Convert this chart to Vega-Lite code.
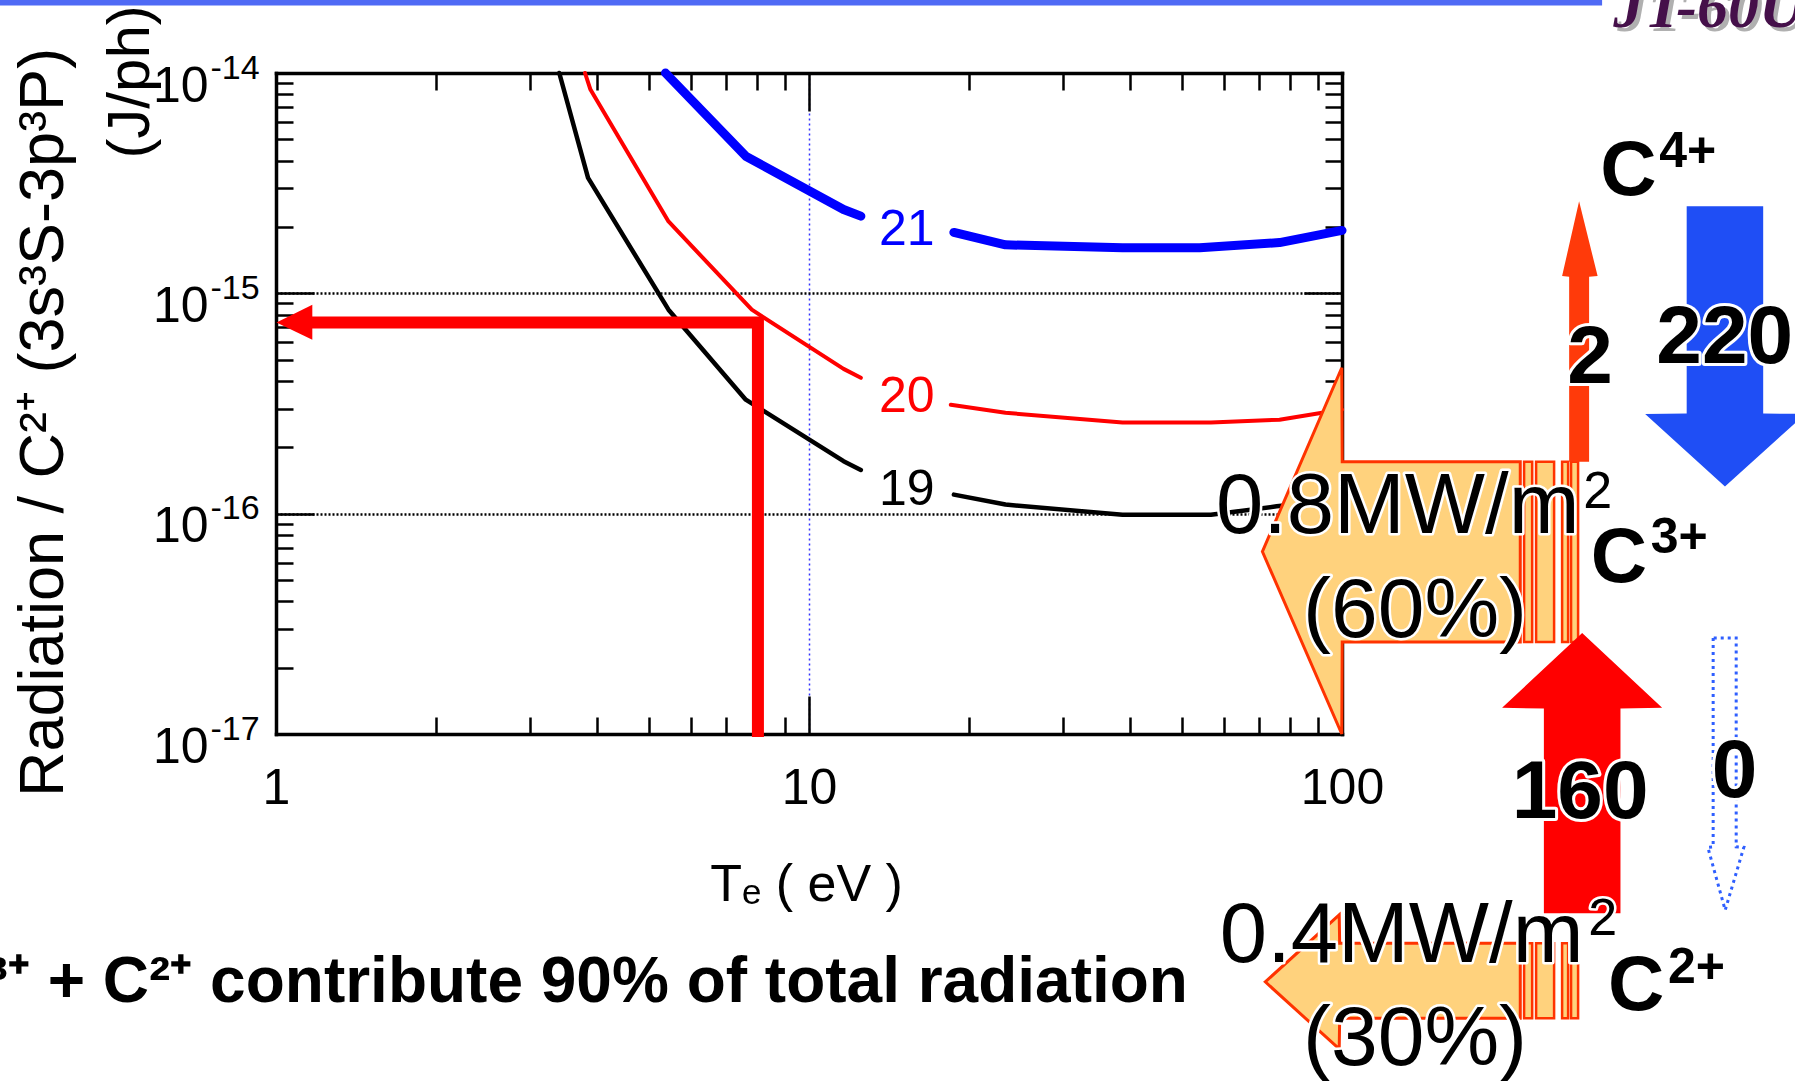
{
  "$schema": "https://vega.github.io/schema/vega-lite/v6.json",
  "width": 1066,
  "height": 661,
  "autosize": {"type": "none"},
  "padding": {"left": 276, "top": 73, "right": 453, "bottom": 347},
  "background": "white",
  "config": {
    "view": {"stroke": null},
    "font": "Liberation Sans",
    "axis": {"labelFont": "Liberation Sans", "titleFont": "Liberation Sans", "labelColor": "black", "titleColor": "black", "tickColor": "black", "domainColor": "black"}
  },
  "datasets": {
    "curves": [
      {"series": "19", "seg": "a", "Te": 3.40, "R": 1e-14},
      {"series": "19", "seg": "a", "Te": 3.85, "R": 3.34e-15},
      {"series": "19", "seg": "a", "Te": 5.45, "R": 8.43e-16},
      {"series": "19", "seg": "a", "Te": 7.61, "R": 3.29e-16},
      {"series": "19", "seg": "a", "Te": 11.61, "R": 1.73e-16},
      {"series": "19", "seg": "a", "Te": 12.51, "R": 1.58e-16},
      {"series": "19", "seg": "b", "Te": 18.70, "R": 1.22e-16},
      {"series": "19", "seg": "b", "Te": 23.37, "R": 1.10e-16},
      {"series": "19", "seg": "b", "Te": 38.74, "R": 9.88e-17},
      {"series": "19", "seg": "b", "Te": 56.77, "R": 9.88e-17},
      {"series": "19", "seg": "b", "Te": 75.4, "R": 1.08e-16},
      {"series": "19", "seg": "b", "Te": 100, "R": 1.16e-16},
      {"series": "20", "seg": "a", "Te": 3.80, "R": 1e-14},
      {"series": "20", "seg": "a", "Te": 3.89, "R": 8.41e-15},
      {"series": "20", "seg": "a", "Te": 5.45, "R": 2.12e-15},
      {"series": "20", "seg": "a", "Te": 7.81, "R": 8.43e-16},
      {"series": "20", "seg": "a", "Te": 11.61, "R": 4.54e-16},
      {"series": "20", "seg": "a", "Te": 12.51, "R": 4.14e-16},
      {"series": "20", "seg": "b", "Te": 18.45, "R": 3.12e-16},
      {"series": "20", "seg": "b", "Te": 23.37, "R": 2.87e-16},
      {"series": "20", "seg": "b", "Te": 38.74, "R": 2.59e-16},
      {"series": "20", "seg": "b", "Te": 56.77, "R": 2.59e-16},
      {"series": "20", "seg": "b", "Te": 76.35, "R": 2.67e-16},
      {"series": "20", "seg": "b", "Te": 100, "R": 2.97e-16},
      {"series": "21", "seg": "a", "Te": 5.38, "R": 1e-14},
      {"series": "21", "seg": "a", "Te": 7.61, "R": 4.19e-15},
      {"series": "21", "seg": "a", "Te": 11.61, "R": 2.40e-15},
      {"series": "21", "seg": "a", "Te": 12.51, "R": 2.24e-15},
      {"series": "21", "seg": "b", "Te": 18.70, "R": 1.89e-15},
      {"series": "21", "seg": "b", "Te": 23.37, "R": 1.66e-15},
      {"series": "21", "seg": "b", "Te": 38.74, "R": 1.61e-15},
      {"series": "21", "seg": "b", "Te": 54.07, "R": 1.61e-15},
      {"series": "21", "seg": "b", "Te": 76.35, "R": 1.70e-15},
      {"series": "21", "seg": "b", "Te": 100, "R": 1.93e-15}
    ],
    "curvelabels": [
      {"series": "19", "label": "19", "Te": 15.26, "R": 1.097e-16},
      {"series": "20", "label": "20", "Te": 15.26, "R": 2.90e-16},
      {"series": "21", "label": "21", "Te": 15.26, "R": 1.664e-15}
    ],
    "redarrow": [
      {"k": 1, "Te": 8.02, "R": 9.69e-18},
      {"k": 2, "Te": 8.02, "R": 7.38e-16},
      {"k": 3, "Te": 1.16, "R": 7.38e-16}
    ],
    "redhead": [
      {"Te": 1.002, "R": 7.38e-16, "R2": 7.38e-16},
      {"Te": 1.17, "R": 8.88e-16, "R2": 6.16e-16}
    ],
    "yellow": [
      {"arrow": "c3", "Te": 70.9, "R": 6.73e-17, "R2": 6.73e-17},
      {"arrow": "c3", "Te": 99.9, "R": 4.596e-16, "R2": 1e-17},
      {"arrow": "c3", "Te": 100.1, "R": 1.719e-16, "R2": 2.617e-17},
      {"arrow": "c3", "Te": 216, "R": 1.719e-16, "R2": 2.617e-17},
      {"arrow": "c2", "Te": 71.8, "R": 7.50e-19, "R2": 7.50e-19},
      {"arrow": "c2", "Te": 98.8, "R": 1.511e-18, "R2": 3.72e-19},
      {"arrow": "c2", "Te": 99.0, "R": 1.124e-18, "R2": 5.13e-19},
      {"arrow": "c2", "Te": 216, "R": 1.124e-18, "R2": 5.13e-19}
    ],
    "stripes": [
      {"Te": 219.6, "Te2": 227.4, "R": 1.719e-16, "R2": 2.617e-17},
      {"Te": 231.3, "Te2": 250.0, "R": 1.719e-16, "R2": 2.617e-17},
      {"Te": 258.8, "Te2": 265.6, "R": 1.719e-16, "R2": 2.617e-17},
      {"Te": 269.0, "Te2": 277.3, "R": 1.719e-16, "R2": 2.617e-17},
      {"Te": 219.6, "Te2": 227.4, "R": 1.124e-18, "R2": 5.13e-19},
      {"Te": 231.3, "Te2": 250.0, "R": 1.124e-18, "R2": 5.13e-19},
      {"Te": 258.8, "Te2": 265.6, "R": 1.124e-18, "R2": 5.13e-19},
      {"Te": 269.0, "Te2": 277.3, "R": 1.124e-18, "R2": 5.13e-19}
    ],
    "vertarrows": [
      {"arrow": "orange", "R": 1.719e-16, "Te": 266.8, "Te2": 290.8},
      {"arrow": "orange", "R": 1.190e-15, "Te": 266.8, "Te2": 290.8},
      {"arrow": "orange", "R": 1.198e-15, "Te": 258.8, "Te2": 301.7},
      {"arrow": "orange", "R": 2.617e-15, "Te": 278.5, "Te2": 278.5},
      {"arrow": "blue", "R": 1.328e-16, "Te": 523, "Te2": 523},
      {"arrow": "blue", "R": 2.835e-16, "Te": 370.5, "Te2": 739.8},
      {"arrow": "blue", "R": 2.850e-16, "Te": 443.3, "Te2": 616.9},
      {"arrow": "blue", "R": 2.483e-15, "Te": 443.3, "Te2": 616.9},
      {"arrow": "red", "R": 1.538e-18, "Te": 239.2, "Te2": 333.0},
      {"arrow": "red", "R": 1.305e-17, "Te": 239.2, "Te2": 333.0},
      {"arrow": "red", "R": 1.315e-17, "Te": 199.7, "Te2": 398.7},
      {"arrow": "red", "R": 2.875e-17, "Te": 282.2, "Te2": 282.2}
    ],
    "dotted": [
      {"R": 1.587e-18, "Te": 523.5, "Te2": 523.5},
      {"R": 3.06e-18, "Te": 485.7, "Te2": 567.4},
      {"R": 3.075e-18, "Te": 497.0, "Te2": 549.0},
      {"R": 2.729e-17, "Te": 497.0, "Te2": 549.0}
    ],
    "bar": [
      {"Te": 0.3027, "Te2": 307.6, "R": 2.09e-14}
    ],
    "texts": [
      {"kind": "C", "label": "C", "Te": 305.0, "R": 2.807e-15},
      {"kind": "C", "label": "C", "Te": 292.8, "R": 4.90e-17},
      {"kind": "C", "label": "C", "Te": 315.4, "R": 5.58e-19},
      {"kind": "Csup", "label": "4+", "Te": 393.6, "R": 3.76e-15},
      {"kind": "Csup", "label": "3+", "Te": 379.6, "R": 6.64e-17},
      {"kind": "Csup", "label": "2+", "Te": 408.7, "R": 7.40e-19},
      {"kind": "num", "label": "2", "Te": 292.1, "R": 3.93e-16},
      {"kind": "num", "label": "220", "Te": 522.4, "R": 4.84e-16},
      {"kind": "num", "label": "160", "Te": 279.7, "R": 4.155e-18},
      {"kind": "num", "label": "0", "Te": 545.4, "R": 5.17e-18},
      {"kind": "mw", "label": "0.8MW/m", "Te": 58.0, "R": 8.18e-17},
      {"kind": "mw", "label": "0.4MW/m", "Te": 59.0, "R": 9.22e-19},
      {"kind": "msup", "label": "2", "Te": 283.4, "R": 1.063e-16},
      {"kind": "msup", "label": "2", "Te": 289.6, "R": 1.222e-18},
      {"kind": "pct", "label": "(60%)", "Te": 137.1, "R": 2.76e-17},
      {"kind": "pct", "label": "(30%)", "Te": 137.1, "R": 3.14e-19},
      {"kind": "bottom", "label": "C³⁺ + C²⁺ contribute 90% of total radiation", "Te": 51.4, "R": 6.07e-19},
      {"kind": "jph", "label": "(J/ph)", "Te": 0.5356, "R": 2.03e-14},
      {"kind": "logo", "label": "JT-60U", "Te": 322.7, "R": 1.609e-14}
    ]
  },
  "layer": [
    {
      "data": {"name": "bar"},
      "mark": {"type": "rule", "color": "#4f6af5", "strokeWidth": 6},
      "encoding": {
        "x": {"field": "Te", "type": "quantitative", "scale": {"type": "log", "domain": [1, 100], "nice": false}, "axis": null},
        "x2": {"field": "Te2"},
        "y": {"field": "R", "type": "quantitative", "scale": {"type": "log", "domain": [1e-17, 1e-14], "nice": false}, "axis": null}
      }
    },
    {
      "data": {"name": "curves"},
      "transform": [{"filter": "datum.series == '19'"}],
      "mark": {"type": "line", "color": "#000000", "strokeWidth": 4.5, "strokeCap": "round", "strokeJoin": "round"},
      "encoding": {
        "x": {"field": "Te", "type": "quantitative", "scale": {"type": "log", "domain": [1, 100], "nice": false},
          "axis": {"orient": "bottom", "values": [1, 10, 100], "labelExpr": "'' + datum.value", "ticks": false, "tickSize": 0, "domain": false, "grid": false, "labelFontSize": 50, "labelPadding": 29, "labelFlush": false, "labelOverlap": false, "labelBound": false,
            "title": "Tₑ ( eV )", "titleFontSize": 52, "titleFontWeight": "normal", "titleX": 530, "titleY": 166, "titleBaseline": "alphabetic", "titleAlign": "center"}},
        "y": {"field": "R", "type": "quantitative", "scale": {"type": "log", "domain": [1e-17, 1e-14], "nice": false},
          "axis": {"orient": "left", "values": [1e-17, 1e-16, 1e-15, 1e-14], "labelExpr": "'10'",
            "ticks": false, "tickSize": 0, "domain": false, "grid": true, "gridColor": "black", "gridDash": [2, 2], "gridWidth": 2.5, "gridOpacity": 1,
            "labelFontSize": 50, "labelPadding": 68, "labelOffset": 13, "labelBaseline": "middle", "labelAlign": "right", "labelFlush": false, "labelOverlap": false, "labelBound": false,
            "title": "Radiation / C²⁺ (3s³S-3p³P)", "titleFontSize": 63, "titleFontWeight": "normal", "titleX": -233, "titleY": 349, "titleAngle": 270, "titleBaseline": "middle", "titleAlign": "center"}},
        "detail": {"field": "seg"}
      }
    },
    {
      "data": {"name": "curves"},
      "transform": [{"filter": "datum.series == '20'"}],
      "mark": {"type": "line", "color": "#ff0000", "strokeWidth": 4, "strokeCap": "round", "strokeJoin": "round"},
      "encoding": {
        "x": {"field": "Te", "type": "quantitative", "scale": {"type": "log", "domain": [1, 100], "nice": false}, "axis": null},
        "y": {"field": "R", "type": "quantitative", "scale": {"type": "log", "domain": [1e-17, 1e-14], "nice": false},
          "axis": {"orient": "left", "values": [1e-17, 1e-16, 1e-15, 1e-14], "labelExpr": "'-' + (-round(log(datum.value)/LN10))",
            "ticks": false, "tickSize": 0, "domain": false, "grid": false,
            "labelFontSize": 34, "labelPadding": 66, "labelOffset": -5, "labelBaseline": "middle", "labelAlign": "left", "labelFlush": false, "labelOverlap": false, "labelBound": false, "title": null}},
        "detail": {"field": "seg"}
      }
    },
    {
      "data": {"name": "curves"},
      "transform": [{"filter": "datum.series == '21'"}],
      "mark": {"type": "line", "color": "#0000ff", "strokeWidth": 9, "strokeCap": "round", "strokeJoin": "round"},
      "encoding": {
        "x": {"field": "Te", "type": "quantitative", "scale": {"type": "log", "domain": [1, 100], "nice": false}, "axis": null},
        "y": {"field": "R", "type": "quantitative", "scale": {"type": "log", "domain": [1e-17, 1e-14], "nice": false}, "axis": null},
        "detail": {"field": "seg"}
      }
    },
    {
      "data": {"name": "curvelabels"},
      "mark": {"type": "text", "fontSize": 50, "align": "center", "baseline": "alphabetic", "font": "Liberation Sans"},
      "encoding": {
        "x": {"field": "Te", "type": "quantitative", "scale": {"type": "log", "domain": [1, 100], "nice": false},
          "axis": {"orient": "bottom", "values": [1, 10, 100], "tickSize": -38, "tickWidth": 2.5, "ticks": true, "labels": false, "domain": true, "domainWidth": 3.5, "domainCap": "square", "grid": false, "title": null}},
        "y": {"field": "R", "type": "quantitative", "scale": {"type": "log", "domain": [1e-17, 1e-14], "nice": false},
          "axis": {"orient": "left", "values": [1e-17, 1e-16, 1e-15, 1e-14], "tickSize": -38, "tickWidth": 2.5, "ticks": true, "labels": false, "domain": true, "domainWidth": 3.5, "domainCap": "square", "grid": false, "title": null}},
        "text": {"field": "label"},
        "color": {"field": "series", "type": "nominal", "scale": {"domain": ["19", "20", "21"], "range": ["#000000", "#ff0000", "#0000ff"]}, "legend": null}
      }
    },
    {
      "data": {"name": "redarrow"},
      "mark": {"type": "line", "color": "#ff0000", "strokeWidth": 12, "strokeJoin": "miter", "strokeCap": "butt"},
      "encoding": {
        "x": {"field": "Te", "type": "quantitative", "scale": {"type": "log", "domain": [1, 100], "nice": false},
          "axis": {"orient": "bottom", "values": [2, 3, 4, 5, 6, 7, 8, 9, 20, 30, 40, 50, 60, 70, 80, 90], "tickSize": -17, "tickWidth": 2.5, "ticks": true, "labels": false, "domain": false, "grid": false, "title": null}},
        "y": {"field": "R", "type": "quantitative", "scale": {"type": "log", "domain": [1e-17, 1e-14], "nice": false},
          "axis": {"orient": "left", "values": [2e-17, 3e-17, 4e-17, 5e-17, 6e-17, 7e-17, 8e-17, 9e-17, 2e-16, 3e-16, 4e-16, 5e-16, 6e-16, 7e-16, 8e-16, 9e-16, 2e-15, 3e-15, 4e-15, 5e-15, 6e-15, 7e-15, 8e-15, 9e-15], "tickSize": -17, "tickWidth": 2.5, "ticks": true, "labels": false, "domain": false, "grid": false, "title": null}},
        "order": {"field": "k", "type": "quantitative"}
      }
    },
    {
      "data": {"name": "redhead"},
      "mark": {"type": "area", "orient": "vertical", "color": "#ff0000"},
      "encoding": {
        "x": {"field": "Te", "type": "quantitative", "scale": {"type": "log", "domain": [1, 100], "nice": false},
          "axis": {"orient": "top", "values": [1, 10, 100], "tickSize": -38, "tickWidth": 2.5, "ticks": true, "labels": false, "domain": true, "domainWidth": 3.5, "domainCap": "square", "grid": false, "title": null}},
        "y": {"field": "R", "type": "quantitative", "scale": {"type": "log", "domain": [1e-17, 1e-14], "nice": false},
          "axis": {"orient": "right", "values": [1e-17, 1e-16, 1e-15, 1e-14], "tickSize": -38, "tickWidth": 2.5, "ticks": true, "labels": false, "domain": true, "domainWidth": 3.5, "domainCap": "square", "grid": false, "title": null}},
        "y2": {"field": "R2"}
      }
    },
    {
      "data": {"name": "yellow"},
      "mark": {"type": "area", "orient": "vertical", "fill": "#ffd27d", "fillOpacity": 1, "stroke": "#ff3300", "strokeWidth": 3, "strokeJoin": "miter"},
      "encoding": {
        "x": {"field": "Te", "type": "quantitative", "scale": {"type": "log", "domain": [1, 100], "nice": false},
          "axis": {"orient": "top", "values": [2, 3, 4, 5, 6, 7, 8, 9, 20, 30, 40, 50, 60, 70, 80, 90], "tickSize": -17, "tickWidth": 2.5, "ticks": true, "labels": false, "domain": false, "grid": false, "title": null}},
        "y": {"field": "R", "type": "quantitative", "scale": {"type": "log", "domain": [1e-17, 1e-14], "nice": false},
          "axis": {"orient": "right", "values": [2e-17, 3e-17, 4e-17, 5e-17, 6e-17, 7e-17, 8e-17, 9e-17, 2e-16, 3e-16, 4e-16, 5e-16, 6e-16, 7e-16, 8e-16, 9e-16, 2e-15, 3e-15, 4e-15, 5e-15, 6e-15, 7e-15, 8e-15, 9e-15], "tickSize": -17, "tickWidth": 2.5, "ticks": true, "labels": false, "domain": false, "grid": false, "title": null}},
        "y2": {"field": "R2"},
        "detail": {"field": "arrow"}
      }
    },
    {
      "data": {"name": "stripes"},
      "mark": {"type": "rect", "fill": "#ffd27d", "stroke": "#ff3300", "strokeWidth": 2.5},
      "encoding": {
        "x": {"field": "Te", "type": "quantitative", "scale": {"type": "log", "domain": [1, 100], "nice": false},
          "axis": {"orient": "bottom", "values": [10], "ticks": false, "labels": false, "domain": false, "grid": true, "gridColor": "#3333ff", "gridDash": [2, 3], "gridWidth": 1.5, "gridOpacity": 1, "title": null}},
        "x2": {"field": "Te2"},
        "y": {"field": "R", "type": "quantitative", "scale": {"type": "log", "domain": [1e-17, 1e-14], "nice": false}, "axis": null},
        "y2": {"field": "R2"}
      }
    },
    {
      "data": {"name": "vertarrows"},
      "mark": {"type": "area", "orient": "horizontal", "fillOpacity": 1},
      "encoding": {
        "y": {"field": "R", "type": "quantitative", "scale": {"type": "log", "domain": [1e-17, 1e-14], "nice": false}, "axis": null},
        "x": {"field": "Te", "type": "quantitative", "scale": {"type": "log", "domain": [1, 100], "nice": false}, "axis": null},
        "x2": {"field": "Te2"},
        "color": {"field": "arrow", "type": "nominal", "scale": {"domain": ["orange", "blue", "red"], "range": ["#ff3a0a", "#1f4ef5", "#ff0000"]}, "legend": null}
      }
    },
    {
      "data": {"name": "dotted"},
      "mark": {"type": "area", "orient": "horizontal", "fillOpacity": 0, "stroke": "#2f5fff", "strokeWidth": 3, "strokeDash": [3, 4]},
      "encoding": {
        "y": {"field": "R", "type": "quantitative", "scale": {"type": "log", "domain": [1e-17, 1e-14], "nice": false}, "axis": null},
        "x": {"field": "Te", "type": "quantitative", "scale": {"type": "log", "domain": [1, 100], "nice": false}, "axis": null},
        "x2": {"field": "Te2"}
      }
    },
    {
      "data": {"name": "texts"},
      "transform": [{"filter": "datum.kind == 'C'"}],
      "mark": {"type": "text", "font": "Liberation Sans", "fontWeight": "bold", "fontSize": 78, "align": "left", "baseline": "alphabetic", "color": "black"},
      "encoding": {
        "x": {"field": "Te", "type": "quantitative", "scale": {"type": "log", "domain": [1, 100], "nice": false}, "axis": null},
        "y": {"field": "R", "type": "quantitative", "scale": {"type": "log", "domain": [1e-17, 1e-14], "nice": false}, "axis": null},
        "text": {"field": "label"}
      }
    },
    {
      "data": {"name": "texts"},
      "transform": [{"filter": "datum.kind == 'Csup'"}],
      "mark": {"type": "text", "font": "Liberation Sans", "fontWeight": "bold", "fontSize": 50, "align": "left", "baseline": "alphabetic", "color": "black"},
      "encoding": {
        "x": {"field": "Te", "type": "quantitative", "scale": {"type": "log", "domain": [1, 100], "nice": false}, "axis": null},
        "y": {"field": "R", "type": "quantitative", "scale": {"type": "log", "domain": [1e-17, 1e-14], "nice": false}, "axis": null},
        "text": {"field": "label"}
      }
    },
    {
      "data": {"name": "texts"},
      "transform": [{"filter": "datum.kind == 'num'"}],
      "mark": {"type": "text", "font": "Liberation Sans", "fontWeight": "bold", "fontSize": 82, "align": "center", "baseline": "alphabetic", "fill": "white", "stroke": "white", "strokeWidth": 6, "strokeJoin": "round"},
      "encoding": {
        "x": {"field": "Te", "type": "quantitative", "scale": {"type": "log", "domain": [1, 100], "nice": false}, "axis": null},
        "y": {"field": "R", "type": "quantitative", "scale": {"type": "log", "domain": [1e-17, 1e-14], "nice": false}, "axis": null},
        "text": {"field": "label"}
      }
    },
    {
      "data": {"name": "texts"},
      "transform": [{"filter": "datum.kind == 'num'"}],
      "mark": {"type": "text", "font": "Liberation Sans", "fontWeight": "bold", "fontSize": 82, "align": "center", "baseline": "alphabetic", "color": "black"},
      "encoding": {
        "x": {"field": "Te", "type": "quantitative", "scale": {"type": "log", "domain": [1, 100], "nice": false}, "axis": null},
        "y": {"field": "R", "type": "quantitative", "scale": {"type": "log", "domain": [1e-17, 1e-14], "nice": false}, "axis": null},
        "text": {"field": "label"}
      }
    },
    {
      "data": {"name": "texts"},
      "transform": [{"filter": "datum.kind == 'mw'"}],
      "mark": {"type": "text", "font": "Liberation Sans", "fontSize": 85, "align": "left", "baseline": "alphabetic", "fill": "white", "stroke": "white", "strokeWidth": 5, "strokeJoin": "round"},
      "encoding": {
        "x": {"field": "Te", "type": "quantitative", "scale": {"type": "log", "domain": [1, 100], "nice": false}, "axis": null},
        "y": {"field": "R", "type": "quantitative", "scale": {"type": "log", "domain": [1e-17, 1e-14], "nice": false}, "axis": null},
        "text": {"field": "label"}
      }
    },
    {
      "data": {"name": "texts"},
      "transform": [{"filter": "datum.kind == 'mw'"}],
      "mark": {"type": "text", "font": "Liberation Sans", "fontSize": 85, "align": "left", "baseline": "alphabetic", "color": "black"},
      "encoding": {
        "x": {"field": "Te", "type": "quantitative", "scale": {"type": "log", "domain": [1, 100], "nice": false}, "axis": null},
        "y": {"field": "R", "type": "quantitative", "scale": {"type": "log", "domain": [1e-17, 1e-14], "nice": false}, "axis": null},
        "text": {"field": "label"}
      }
    },
    {
      "data": {"name": "texts"},
      "transform": [{"filter": "datum.kind == 'msup'"}],
      "mark": {"type": "text", "font": "Liberation Sans", "fontSize": 52, "align": "left", "baseline": "alphabetic", "fill": "white", "stroke": "white", "strokeWidth": 5, "strokeJoin": "round"},
      "encoding": {
        "x": {"field": "Te", "type": "quantitative", "scale": {"type": "log", "domain": [1, 100], "nice": false}, "axis": null},
        "y": {"field": "R", "type": "quantitative", "scale": {"type": "log", "domain": [1e-17, 1e-14], "nice": false}, "axis": null},
        "text": {"field": "label"}
      }
    },
    {
      "data": {"name": "texts"},
      "transform": [{"filter": "datum.kind == 'msup'"}],
      "mark": {"type": "text", "font": "Liberation Sans", "fontSize": 52, "align": "left", "baseline": "alphabetic", "color": "black"},
      "encoding": {
        "x": {"field": "Te", "type": "quantitative", "scale": {"type": "log", "domain": [1, 100], "nice": false}, "axis": null},
        "y": {"field": "R", "type": "quantitative", "scale": {"type": "log", "domain": [1e-17, 1e-14], "nice": false}, "axis": null},
        "text": {"field": "label"}
      }
    },
    {
      "data": {"name": "texts"},
      "transform": [{"filter": "datum.kind == 'pct'"}],
      "mark": {"type": "text", "font": "Liberation Sans", "fontSize": 84, "align": "center", "baseline": "alphabetic", "fill": "white", "stroke": "white", "strokeWidth": 5, "strokeJoin": "round"},
      "encoding": {
        "x": {"field": "Te", "type": "quantitative", "scale": {"type": "log", "domain": [1, 100], "nice": false}, "axis": null},
        "y": {"field": "R", "type": "quantitative", "scale": {"type": "log", "domain": [1e-17, 1e-14], "nice": false}, "axis": null},
        "text": {"field": "label"}
      }
    },
    {
      "data": {"name": "texts"},
      "transform": [{"filter": "datum.kind == 'pct'"}],
      "mark": {"type": "text", "font": "Liberation Sans", "fontSize": 84, "align": "center", "baseline": "alphabetic", "color": "black"},
      "encoding": {
        "x": {"field": "Te", "type": "quantitative", "scale": {"type": "log", "domain": [1, 100], "nice": false}, "axis": null},
        "y": {"field": "R", "type": "quantitative", "scale": {"type": "log", "domain": [1e-17, 1e-14], "nice": false}, "axis": null},
        "text": {"field": "label"}
      }
    },
    {
      "data": {"name": "texts"},
      "transform": [{"filter": "datum.kind == 'bottom'"}],
      "mark": {"type": "text", "font": "Liberation Sans", "fontWeight": "bold", "fontSize": 64, "align": "right", "baseline": "alphabetic", "color": "black"},
      "encoding": {
        "x": {"field": "Te", "type": "quantitative", "scale": {"type": "log", "domain": [1, 100], "nice": false}, "axis": null},
        "y": {"field": "R", "type": "quantitative", "scale": {"type": "log", "domain": [1e-17, 1e-14], "nice": false}, "axis": null},
        "text": {"field": "label"}
      }
    },
    {
      "data": {"name": "texts"},
      "transform": [{"filter": "datum.kind == 'jph'"}],
      "mark": {"type": "text", "font": "Liberation Sans", "fontSize": 60, "align": "right", "baseline": "middle", "angle": 270, "color": "black"},
      "encoding": {
        "x": {"field": "Te", "type": "quantitative", "scale": {"type": "log", "domain": [1, 100], "nice": false}, "axis": null},
        "y": {"field": "R", "type": "quantitative", "scale": {"type": "log", "domain": [1e-17, 1e-14], "nice": false}, "axis": null},
        "text": {"field": "label"}
      }
    },
    {
      "data": {"name": "texts"},
      "transform": [{"filter": "datum.kind == 'logo'"}],
      "mark": {"type": "text", "font": "Liberation Serif", "fontWeight": "bold", "fontStyle": "italic", "fontSize": 62, "align": "left", "baseline": "alphabetic", "color": "#b0b0b0", "dx": 4, "dy": 4},
      "encoding": {
        "x": {"field": "Te", "type": "quantitative", "scale": {"type": "log", "domain": [1, 100], "nice": false}, "axis": null},
        "y": {"field": "R", "type": "quantitative", "scale": {"type": "log", "domain": [1e-17, 1e-14], "nice": false}, "axis": null},
        "text": {"field": "label"}
      }
    },
    {
      "data": {"name": "texts"},
      "transform": [{"filter": "datum.kind == 'logo'"}],
      "mark": {"type": "text", "font": "Liberation Serif", "fontWeight": "bold", "fontStyle": "italic", "fontSize": 62, "align": "left", "baseline": "alphabetic", "color": "#45104a"},
      "encoding": {
        "x": {"field": "Te", "type": "quantitative", "scale": {"type": "log", "domain": [1, 100], "nice": false}, "axis": null},
        "y": {"field": "R", "type": "quantitative", "scale": {"type": "log", "domain": [1e-17, 1e-14], "nice": false}, "axis": null},
        "text": {"field": "label"}
      }
    }
  ],
  "resolve": {"scale": {"color": "independent"}, "axis": {"x": "independent", "y": "independent"}}
}
